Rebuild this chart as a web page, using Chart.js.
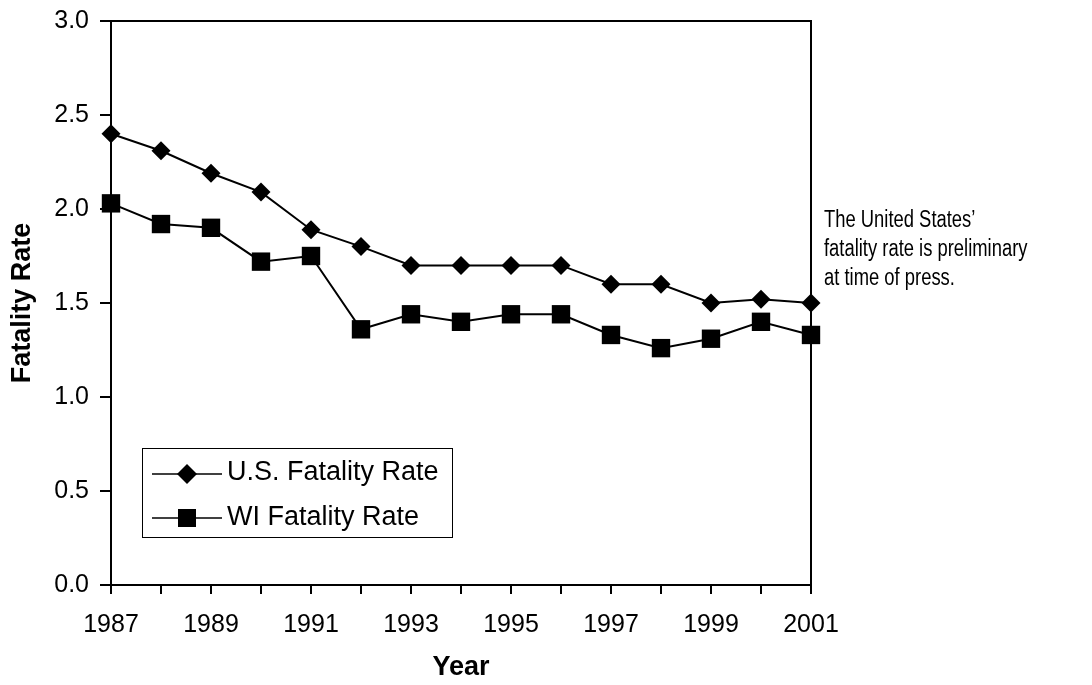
<!DOCTYPE html>
<html>
<head>
<meta charset="utf-8">
<script src="https://cdn.jsdelivr.net/npm/chart.js@4/dist/chart.umd.min.js"></script>
<style>
  html, body { margin: 0; padding: 0; background: #fff; }
  #wrap { width: 1092px; height: 685px; }
</style>
</head>
<body>
<div id="wrap"><canvas id="c" width="1092" height="685"></canvas></div>
<script>
// data
const years = [1987, 1988, 1989, 1990, 1991, 1992, 1993, 1994, 1995, 1996, 1997, 1998, 1999, 2000, 2001];
const usRate = [2.40, 2.31, 2.19, 2.09, 1.89, 1.80, 1.70, 1.70, 1.70, 1.70, 1.60, 1.60, 1.50, 1.52, 1.50];
const wiRate = [2.03, 1.92, 1.90, 1.72, 1.75, 1.36, 1.44, 1.40, 1.44, 1.44, 1.33, 1.26, 1.31, 1.40, 1.33];
const seriesNames = ['U.S. Fatality Rate', 'WI Fatality Rate'];
const noteLines = ['The United States\u2019', 'fatality rate is preliminary', 'at time of press.'];

const FONT = "'Liberation Sans', Arial, sans-serif";

// frame on top/right + legend box + side note
const extras = {
    id: 'extras',
    afterDraw(chart) {
        const ctx = chart.ctx;
        const a = chart.chartArea;
        ctx.save();
        ctx.strokeStyle = '#000';
        ctx.lineWidth = 2;
        ctx.beginPath();
        ctx.moveTo(a.left, a.top);
        ctx.lineTo(a.right, a.top);
        ctx.lineTo(a.right, a.bottom);
        ctx.stroke();

        // legend
        const lx = 142, ly = 448, lw = 310, lh = 89;
        ctx.fillStyle = '#fff';
        ctx.fillRect(lx, ly, lw, lh);
        ctx.lineWidth = 1;
        ctx.strokeRect(lx + 0.5, ly + 0.5, lw, lh);
        const rows = [ly + 26, ly + 70];
        chart.data.datasets.forEach((ds, i) => {
            const y = rows[i];
            ctx.strokeStyle = '#000';
            ctx.lineWidth = 1.5;
            ctx.beginPath();
            ctx.moveTo(152, y);
            ctx.lineTo(222, y);
            ctx.stroke();
            ctx.fillStyle = '#000';
            ctx.beginPath();
            if (ds.pointStyle === 'rectRot') {
                const r = 10;
                ctx.moveTo(187 - r, y); ctx.lineTo(187, y - r);
                ctx.lineTo(187 + r, y); ctx.lineTo(187, y + r);
                ctx.closePath();
            } else {
                ctx.rect(187 - 9, y - 9, 18, 18);
            }
            ctx.fill();
            ctx.font = '27px ' + FONT;
            ctx.textBaseline = 'alphabetic';
            ctx.textAlign = 'left';
            ctx.fillText(ds.label, 227, y + 6 + (i === 0 ? 0 : 1));
        });

        // side note (condensed text, like the original text box)
        ctx.font = '23px ' + FONT;
        ctx.fillStyle = '#000';
        ctx.textBaseline = 'alphabetic';
        noteLines.forEach((t, i) => {
            ctx.save();
            ctx.translate(824, 227 + i * 29);
            ctx.scale(0.8, 1);
            ctx.fillText(t, 0, 0);
            ctx.restore();
        });
        ctx.restore();
    }
};

new Chart(document.getElementById('c'), {
    type: 'line',
    data: {
        labels: years,
        datasets: [
            {
                label: seriesNames[0],
                data: years.map((y, i) => ({ x: y, y: usRate[i] })),
                borderColor: '#000',
                backgroundColor: '#000',
                borderWidth: 2,
                pointStyle: 'rectRot',
                pointRadius: 9.5,
                pointBorderWidth: 0,
                tension: 0
            },
            {
                label: seriesNames[1],
                data: years.map((y, i) => ({ x: y, y: wiRate[i] })),
                borderColor: '#000',
                backgroundColor: '#000',
                borderWidth: 2,
                pointStyle: 'rect',
                pointRadius: 13,
                pointBorderWidth: 0,
                tension: 0
            }
        ]
    },
    options: {
        responsive: false,
        animation: false,
        clip: false,
        layout: { padding: { left: 0, right: 281, top: 21, bottom: 0 } },
        plugins: { legend: { display: false }, tooltip: { enabled: false } },
        scales: {
            x: {
                type: 'linear',
                min: 1987,
                max: 2001,
                afterFit(s) { s.height = 100; s.paddingLeft = 0; s.paddingRight = 0; },
                border: { display: true, color: '#000', width: 2 },
                grid: { drawOnChartArea: false, color: '#000', lineWidth: 2, tickLength: 9 },
                ticks: {
                    stepSize: 1,
                    autoSkip: false,
                    maxRotation: 0,
                    padding: 16,
                    color: '#000',
                    font: { family: FONT, size: 25 },
                    callback: v => ((v - 1987) % 2 === 0 ? String(v) : '')
                },
                title: {
                    display: true,
                    text: 'Year',
                    color: '#000',
                    font: { family: FONT, size: 27, weight: 'bold' },
                    padding: { top: 0, bottom: 1 }
                }
            },
            y: {
                min: 0,
                max: 3,
                afterFit(s) { s.width = 111; s.paddingTop = 0; s.paddingBottom = 0; },
                border: { display: true, color: '#000', width: 2 },
                grid: { drawOnChartArea: false, color: '#000', lineWidth: 2, tickLength: 11 },
                ticks: {
                    stepSize: 0.5,
                    padding: 11,
                    color: '#000',
                    font: { family: FONT, size: 25 },
                    callback: v => v.toFixed(1)
                },
                title: {
                    display: true,
                    text: 'Fatality Rate',
                    color: '#000',
                    font: { family: FONT, size: 27, weight: 'bold' },
                    padding: { top: 6, bottom: 0 }
                }
            }
        }
    },
    plugins: [extras]
});
</script>
</body>
</html>
